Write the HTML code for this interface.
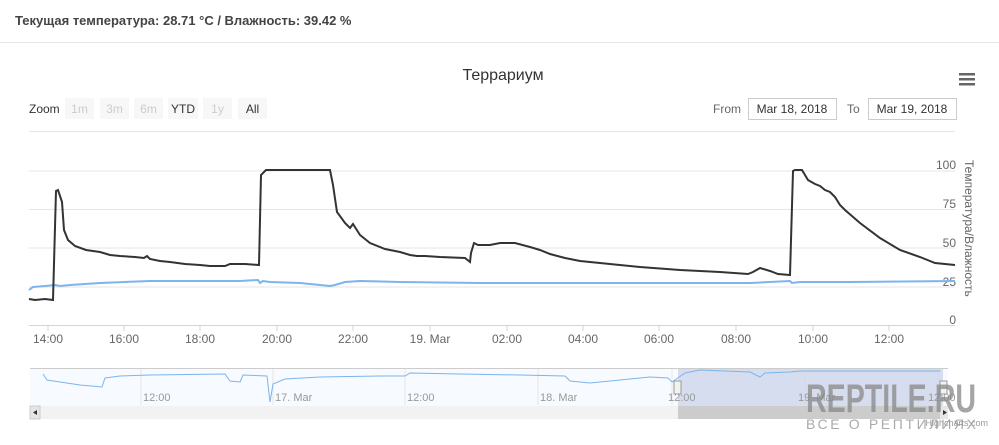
<!DOCTYPE html>
<html><head><meta charset="utf-8"><style>
body{margin:0;width:999px;height:445px;overflow:hidden;background:#fff;font-family:"Liberation Sans","DejaVu Sans",sans-serif;position:relative}
.hdr{position:absolute;left:0;top:0;width:999px;height:43px;border-bottom:1px solid #e5e5e5;box-sizing:border-box}
.hdr span{position:absolute;left:15px;top:13px;font-size:13px;font-weight:bold;color:#444}
svg{position:absolute;left:0;top:0}
</style></head><body>
<div class="hdr"><span>Текущая температура: 28.71 °C / Влажность: 39.42 %</span></div>
<svg width="999" height="445" font-family="Liberation Sans, DejaVu Sans, sans-serif">
<text x="503" y="80" text-anchor="middle" font-size="16" fill="#333">Террариум</text>
<g fill="#666"><rect x="959" y="73" width="16" height="2.5"/><rect x="959" y="78" width="16" height="2.5"/><rect x="959" y="83" width="16" height="2.5"/></g>
<text x="29" y="113" font-size="12" fill="#333">Zoom</text>
<g font-size="12" text-anchor="middle">
<rect x="65" y="98" width="29" height="21" fill="#f7f7f7"/><text x="79.5" y="113" fill="#ccc">1m</text>
<rect x="100" y="98" width="29" height="21" fill="#f7f7f7"/><text x="114.5" y="113" fill="#ccc">3m</text>
<rect x="134" y="98" width="29" height="21" fill="#f7f7f7"/><text x="148.5" y="113" fill="#ccc">6m</text>
<rect x="168" y="98" width="30" height="21" fill="#f7f7f7"/><text x="183" y="113" fill="#333">YTD</text>
<rect x="203" y="98" width="29" height="21" fill="#f7f7f7"/><text x="217.5" y="113" fill="#ccc">1y</text>
<rect x="238" y="98" width="29" height="21" fill="#f7f7f7"/><text x="252.5" y="113" fill="#333">All</text>
</g>
<text x="713" y="113" font-size="12" fill="#666">From</text>
<rect x="748.5" y="98.5" width="88" height="21" fill="#fff" stroke="#ccc"/>
<text x="792" y="113" font-size="12" fill="#333" text-anchor="middle">Mar 18, 2018</text>
<text x="847" y="113" font-size="12" fill="#666">To</text>
<rect x="868.5" y="98.5" width="88" height="21" fill="#fff" stroke="#ccc"/>
<text x="912" y="113" font-size="12" fill="#333" text-anchor="middle">Mar 19, 2018</text>
<line x1="29" y1="131.5" x2="955" y2="131.5" stroke="#e6e6e6"/>
<g stroke="#e6e6e6"><line x1="29" y1="171" x2="955" y2="171"/><line x1="29" y1="209.5" x2="955" y2="209.5"/><line x1="29" y1="248" x2="955" y2="248"/><line x1="29" y1="287" x2="955" y2="287"/></g>
<line x1="29" y1="325.5" x2="955" y2="325.5" stroke="#ccd6eb"/>
<g stroke="#ccd6eb"><line x1="48" y1="325" x2="48" y2="331"/><line x1="124" y1="325" x2="124" y2="331"/><line x1="200" y1="325" x2="200" y2="331"/><line x1="277" y1="325" x2="277" y2="331"/><line x1="353" y1="325" x2="353" y2="331"/><line x1="430" y1="325" x2="430" y2="331"/><line x1="507" y1="325" x2="507" y2="331"/><line x1="583" y1="325" x2="583" y2="331"/><line x1="659" y1="325" x2="659" y2="331"/><line x1="736" y1="325" x2="736" y2="331"/><line x1="813" y1="325" x2="813" y2="331"/><line x1="889" y1="325" x2="889" y2="331"/></g>
<g font-size="12" fill="#666" text-anchor="middle">
<text x="48" y="343">14:00</text><text x="124" y="343">16:00</text><text x="200" y="343">18:00</text><text x="277" y="343">20:00</text><text x="353" y="343">22:00</text><text x="430" y="343">19. Mar</text><text x="507" y="343">02:00</text><text x="583" y="343">04:00</text><text x="659" y="343">06:00</text><text x="736" y="343">08:00</text><text x="813" y="343">10:00</text><text x="889" y="343">12:00</text>
</g>
<g font-size="12" fill="#666" text-anchor="end">
<text x="956" y="169">100</text><text x="956" y="208">75</text><text x="956" y="247">50</text><text x="956" y="286">25</text><text x="956" y="324">0</text>
</g>
<text transform="translate(965,160) rotate(90)" font-size="12" fill="#666">Температура/Влажность</text>
<polyline fill="none" stroke="#7cb5ec" stroke-width="2" points="29,290 33,287 45,286 55,285 60,286 70,285 100,283 150,281 240,281 258,280 260,283 263,281 270,282 300,283 320,285 330,286 335,285 345,282 360,281 400,282 480,283 750,283 790,281 792,283 800,282 850,282 955,281"/>
<polyline fill="none" stroke="#333" stroke-width="2" points="29,299 35,300 45,299 53,300 56,191 58,190 62,202 64,230 68,240 75,246 86,250 100,252 110,255 120,256 135,257 144,258 147,256 150,259 160,261 170,262 185,264 200,265 210,266 225,266 230,264 245,264 259,265 261,175 266,170 330,170 333,185 337,212 345,223 350,228 353,224 360,235 370,243 385,249 400,252 410,255 417,256 425,256 440,257 465,258 470,262 471,253 474,243 478,245 490,245 500,243 515,243 530,247 540,250 550,254 565,258 580,261 600,263 640,267 680,270 720,272 748,274 753,272 760,268 770,271 778,274 790,275 793,171 795,170 802,170 808,180 815,184 820,186 825,190 830,192 835,197 840,205 845,210 860,223 880,238 900,250 920,257 935,263 945,264 955,265"/>
<!-- navigator -->
<rect x="30" y="368" width="918" height="38" fill="#f7faff"/>
<line x1="30" y1="368.5" x2="948" y2="368.5" stroke="#ccc"/>
<g stroke="#e6e6e6"><line x1="141" y1="369" x2="141" y2="405"/><line x1="273" y1="369" x2="273" y2="405"/><line x1="405" y1="369" x2="405" y2="405"/><line x1="538" y1="369" x2="538" y2="405"/><line x1="672" y1="369" x2="672" y2="405"/><line x1="805" y1="369" x2="805" y2="405"/><line x1="938" y1="369" x2="938" y2="405"/></g>
<rect x="678" y="369" width="265" height="37" fill="#ccd6eb" opacity="0.8"/>
<polyline fill="none" stroke="#7cb5ec" stroke-width="1" points="43,374 47,380 60,382 80,385 102,387 105,378 120,376 150,375 225,374 230,381 240,382 243,375 267,376 270,402 273,384 285,379 320,377 380,376 405,376 410,373 460,374 520,375 565,376 570,381 590,383 620,380 650,377 668,378 672,382 685,373 700,370 750,372 760,377 765,373 790,372 800,371 850,371 940,371"/>
<rect x="674" y="381" width="7" height="13" fill="#f2f2f2" stroke="#999"/>
<rect x="940" y="381" width="7" height="13" fill="#f2f2f2" stroke="#999"/>
<g font-size="11" fill="#999">
<text x="143" y="401">12:00</text><text x="275" y="401">17. Mar</text><text x="407" y="401">12:00</text><text x="540" y="401">18. Mar</text><text x="668" y="401">12:00</text><text x="798" y="401">19. Mar</text><text x="928" y="401">12:00</text>
</g>
<rect x="30" y="406" width="918" height="13" fill="#f2f2f2"/>
<rect x="678" y="406" width="265" height="13" fill="#ccc"/>
<rect x="30" y="406" width="10" height="13" fill="#e6e6e6" stroke="#ccc"/>
<path d="M37,410 L33,412.5 L37,415Z" fill="#333"/>
<rect x="940" y="406" width="8" height="13" fill="#e6e6e6"/>
<path d="M943,410 L947,412.5 L943,415Z" fill="#333"/>
<!-- watermark -->
<text x="806" y="412" font-size="40" font-weight="bold" fill="#888" opacity="0.75" textLength="170" lengthAdjust="spacingAndGlyphs">REPTILE.RU</text>
<text x="806" y="429" font-size="14" fill="#aaa" textLength="170" lengthAdjust="spacing">ВСЕ О РЕПТИЛИЯХ</text>
<text x="988" y="426" font-size="9" fill="#999" text-anchor="end">Highcharts.com</text>
</svg>
</body></html>
